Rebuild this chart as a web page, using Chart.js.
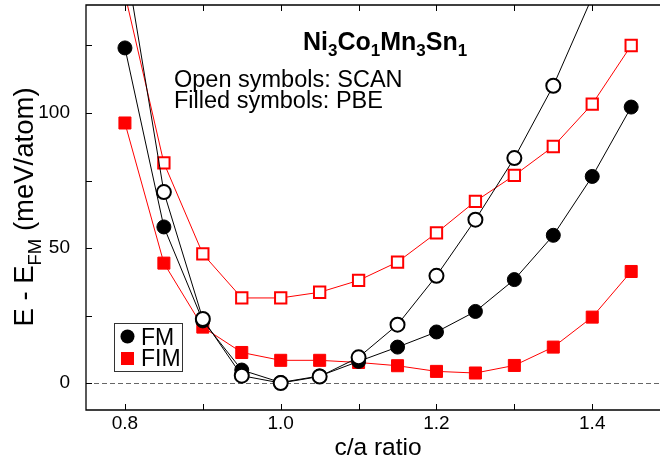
<!DOCTYPE html>
<html>
<head>
<meta charset="utf-8">
<script src="https://cdn.jsdelivr.net/npm/chart.js@4.4.1/dist/chart.umd.min.js"></script>
<style>
  html, body { margin: 0; padding: 0; background: #fff; }
  #wrap { width: 660px; height: 461px; }
</style>
</head>
<body>
<div id="wrap"><canvas id="chart" width="660" height="461"></canvas></div>
<script>
// c/a values shared by all four curves
const caRatio = [0.8, 0.85, 0.9, 0.95, 1.0, 1.05, 1.1, 1.15, 1.2, 1.25, 1.3, 1.35, 1.4, 1.45];

// E - E_FM in meV/atom
const scanFM  = [158, 70.7, 23.7, 2.7, 0, 2.4, 9.5, 21.6, 39.7, 60.5, 83.3, 110.1, 143, null];
const pbeFM   = [124.1, 57.8, 23, 4.8, 0.2, 2.6, 8, 13.3, 18.9, 26.5, 38.3, 54.7, 76.5, 102.2];
const scanFIM = [144, 81.5, 47.8, 31.5, 31.5, 33.6, 38.0, 44.8, 55.6, 67.3, 76.9, 87.6, 103.3, 125.0];
const pbeFIM  = [96.3, 44.4, 20.7, 11.3, 8.4, 8.4, 7.6, 6.4, 4.3, 3.7, 6.5, 13.3, 24.4, 41.3];

// axes
const xTicks = [0.8, 1.0, 1.2, 1.4];
const xMinorTicks = [0.9, 1.1, 1.3];
const yTicks = [0, 50, 100];
const yMinorTicks = [25, 75, 125];

// texts
const titleParts = [['Ni', 0], ['3', 1], ['Co', 0], ['1', 1], ['Mn', 0], ['3', 1], ['Sn', 0], ['1', 1]];
const noteLines = ['Open symbols: SCAN', 'Filled symbols: PBE'];
const yTitleParts = [['E - E', 0], ['FM', 1], [' (meV/atom)', 0]];
const xTitle = 'c/a ratio';
const legendLabels = ['FM', 'FIM'];

const FONT = "'Liberation Sans', Arial, sans-serif";
Chart.defaults.font.family = FONT;

const toPoints = ys => caRatio.map((x, i) => ({ x: x, y: ys[i] }));

// draw a run of text pieces, pieces flagged 1 are subscripts
function drawParts(ctx, parts, x, y, size, subSize, subDrop, bold) {
  const w = bold ? 'bold ' : '';
  parts.forEach(([t, sub]) => {
    ctx.font = w + (sub ? subSize : size) + 'px ' + FONT;
    ctx.fillText(t, x, sub ? y + subDrop : y);
    x += ctx.measureText(t).width;
  });
}
function partsWidth(ctx, parts, size, subSize, bold) {
  const w = bold ? 'bold ' : '';
  let total = 0;
  parts.forEach(([t, sub]) => {
    ctx.font = w + (sub ? subSize : size) + 'px ' + FONT;
    total += ctx.measureText(t).width;
  });
  return total;
}

const decor = {
  id: 'decor',
  beforeDatasetsDraw(chart) {
    const { ctx, chartArea: a, scales: { y } } = chart;
    const y0 = Math.round(y.getPixelForValue(0)) + 0.5;
    ctx.save();
    ctx.strokeStyle = '#666';
    ctx.lineWidth = 1.2;
    ctx.setLineDash([5, 3]);
    ctx.beginPath();
    ctx.moveTo(a.left, y0);
    ctx.lineTo(a.right, y0);
    ctx.stroke();
    ctx.restore();
  },
  afterDraw(chart) {
    const { ctx, chartArea: a, scales: { x, y } } = chart;
    ctx.save();

    // frame (right side falls outside the picture)
    ctx.strokeStyle = '#000';
    ctx.lineWidth = 1.3;
    ctx.beginPath();
    ctx.moveTo(a.right, a.top);
    ctx.lineTo(a.left, a.top);
    ctx.lineTo(a.left, a.bottom);
    ctx.lineTo(a.right, a.bottom);
    ctx.stroke();

    // inward ticks
    ctx.lineWidth = 1;
    ctx.beginPath();
    xTicks.concat(xMinorTicks).forEach(v => {
      const px = Math.round(x.getPixelForValue(v)) + 0.5;
      ctx.moveTo(px, a.bottom); ctx.lineTo(px, a.bottom - 6);
      ctx.moveTo(px, a.top); ctx.lineTo(px, a.top + 6);
    });
    yTicks.concat(yMinorTicks).forEach(v => {
      const py = Math.round(y.getPixelForValue(v)) + 0.5;
      ctx.moveTo(a.left, py); ctx.lineTo(a.left + 6, py);
    });
    ctx.stroke();

    ctx.fillStyle = '#000';
    ctx.textBaseline = 'alphabetic';
    ctx.textAlign = 'left';

    // compound title
    drawParts(ctx, titleParts, 303, 50, 25, 17, 6, true);

    // notes
    ctx.font = '23.5px ' + FONT;
    ctx.fillText(noteLines[0], 174, 87);
    ctx.fillText(noteLines[1], 174, 108);

    // axis titles
    ctx.font = '24.5px ' + FONT;
    ctx.textAlign = 'center';
    ctx.fillText(xTitle, 378, 455);

    ctx.textAlign = 'left';
    const tw = partsWidth(ctx, yTitleParts, 27.5, 18.5, false);
    ctx.save();
    ctx.translate(33, 207);
    ctx.rotate(-Math.PI / 2);
    drawParts(ctx, yTitleParts, -tw / 2, 0, 27.5, 18.5, 8, false);
    ctx.restore();

    // legend box
    ctx.strokeStyle = '#333';
    ctx.lineWidth = 1;
    ctx.strokeRect(114.5, 323.5, 68, 48);
    ctx.fillStyle = '#000';
    ctx.beginPath();
    ctx.arc(127.5, 336.5, 7, 0, Math.PI * 2);
    ctx.fill();
    ctx.fillStyle = '#f00';
    ctx.fillRect(121, 352, 13, 13);
    ctx.fillStyle = '#000';
    ctx.font = '23px ' + FONT;
    ctx.fillText(legendLabels[0], 141, 345);
    ctx.fillText(legendLabels[1], 141, 366);

    ctx.restore();
  }
};

new Chart(document.getElementById('chart'), {
  type: 'line',
  data: {
    datasets: [
      {
        label: 'FM SCAN',
        data: toPoints(scanFM),
        borderColor: '#000',
        borderWidth: 1,
        pointStyle: 'circle',
        pointRadius: 7,
        pointBorderWidth: 2,
        pointBackgroundColor: '#fff',
        pointBorderColor: '#000',
        clip: 0
      },
      {
        label: 'FIM SCAN',
        data: toPoints(scanFIM),
        borderColor: '#f00',
        borderWidth: 1,
        pointStyle: 'rect',
        pointRadius: 8,
        pointBorderWidth: 2,
        pointBackgroundColor: '#fff',
        pointBorderColor: '#f00',
        clip: 0
      },
      {
        label: 'FM PBE',
        data: toPoints(pbeFM),
        borderColor: '#000',
        borderWidth: 1,
        pointStyle: 'circle',
        pointRadius: 7,
        pointBorderWidth: 1,
        pointBackgroundColor: '#000',
        pointBorderColor: '#000',
        clip: 0
      },
      {
        label: 'FIM PBE',
        data: toPoints(pbeFIM),
        borderColor: '#f00',
        borderWidth: 1,
        pointStyle: 'rect',
        pointRadius: 8.5,
        pointBorderWidth: 1,
        pointBackgroundColor: '#f00',
        pointBorderColor: '#f00',
        clip: 0
      }
    ]
  },
  options: {
    responsive: false,
    animation: false,
    parsing: false,
    layout: { autoPadding: false, padding: { top: 5, right: 0, bottom: 0, left: 0 } },
    plugins: {
      legend: { display: false },
      tooltip: { enabled: false }
    },
    scales: {
      x: {
        type: 'linear',
        min: 0.75,
        max: 1.487,
        afterFit(s) { s.height = 51; s.paddingLeft = 0; s.paddingRight = 0; },
        afterBuildTicks(s) { s.ticks = xTicks.map(v => ({ value: v })); },
        ticks: {
          callback: v => v.toFixed(1),
          color: '#000',
          font: { size: 19 },
          padding: -6,
          maxRotation: 0,
          autoSkip: false
        },
        grid: { display: false },
        border: { display: false }
      },
      y: {
        type: 'linear',
        min: -10,
        max: 140,
        afterFit(s) { s.width = 86; s.paddingTop = 0; s.paddingBottom = 0; },
        afterBuildTicks(s) { s.ticks = yTicks.map(v => ({ value: v })); },
        ticks: {
          color: '#000',
          font: { size: 19 },
          padding: 8
        },
        grid: { display: false },
        border: { display: false }
      }
    }
  },
  plugins: [decor]
});
</script>
</body>
</html>
